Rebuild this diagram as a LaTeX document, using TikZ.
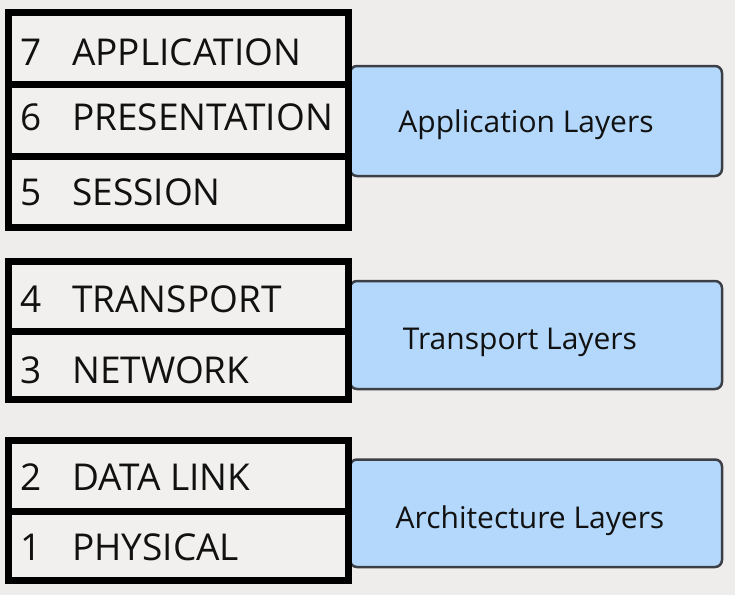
\documentclass[tikz,border=0pt]{standalone}
\usepackage{fontspec}
\setmainfont{Open Sans}
\definecolor{bggray}{HTML}{EEEDEC}
\definecolor{cellgray}{HTML}{F1F0EF}
\definecolor{layerblue}{HTML}{B3D8FB}
\definecolor{layerborder}{HTML}{3C4046}
\definecolor{labeltext}{HTML}{111111}
\begin{document}
\begin{tikzpicture}[x=1pt,y=-1pt,
  cell/.style={draw=black, line width=7pt, fill=cellgray, minimum width=340pt, inner sep=0pt},
  celltext/.style={font=\fontsize{37}{40}\selectfont, text=labeltext, anchor=base west, inner sep=0pt},
  layerbox/.style={draw=layerborder, line width=2.5pt, fill=layerblue, rounded corners=7pt, minimum width=372pt, inner sep=0pt},
  layertext/.style={font=\fontsize{30}{34}\selectfont, text=labeltext, anchor=base, inner sep=0pt}]
\useasboundingbox (0,0) rectangle (735,595);
\fill[bggray] (0,0) rectangle (735,595);
% blue boxes
\node[layerbox, minimum height=110pt] (appl) at (536,121) {};
\node[layerbox, minimum height=108pt] (trl) at (536,335) {};
\node[layerbox, minimum height=107.5pt] (arl) at (536,513.25) {};
\node[layertext] (applt) at (526,132) {Application Layers};
\node[layertext] (trlt) at (520,349) {Transport Layers};
\node[layertext] (arlt) at (530,528) {Architecture Layers};
% group 1
\node[cell, minimum height=71.5pt] (c7) at (178,48.25) {};
\node[cell, minimum height=72pt] (c6) at (178,120) {};
\node[cell, minimum height=71pt] (c5) at (178,191.5) {};
% group 2
\node[cell, minimum height=69.5pt] (c4) at (178,296.25) {};
\node[cell, minimum height=68.5pt] (c3) at (178,365.25) {};
% group 3
\node[cell, minimum height=70.5pt] (c2) at (178,475.75) {};
\node[cell, minimum height=69pt] (c1) at (178,545.5) {};
% texts
\foreach \n/\num/\lab/\by in {7/7/APPLICATION/65, 6/6/PRESENTATION/130, 5/5/SESSION/205, 4/4/TRANSPORT/312, 3/3/NETWORK/383, 2/2/DATA LINK/490, 1/1/PHYSICAL/560}{
  \node[celltext] (n\n) at (20,\by) {\num};
  \node[celltext] (l\n) at (72,\by) {\lab};
}
\end{tikzpicture}
\end{document}
